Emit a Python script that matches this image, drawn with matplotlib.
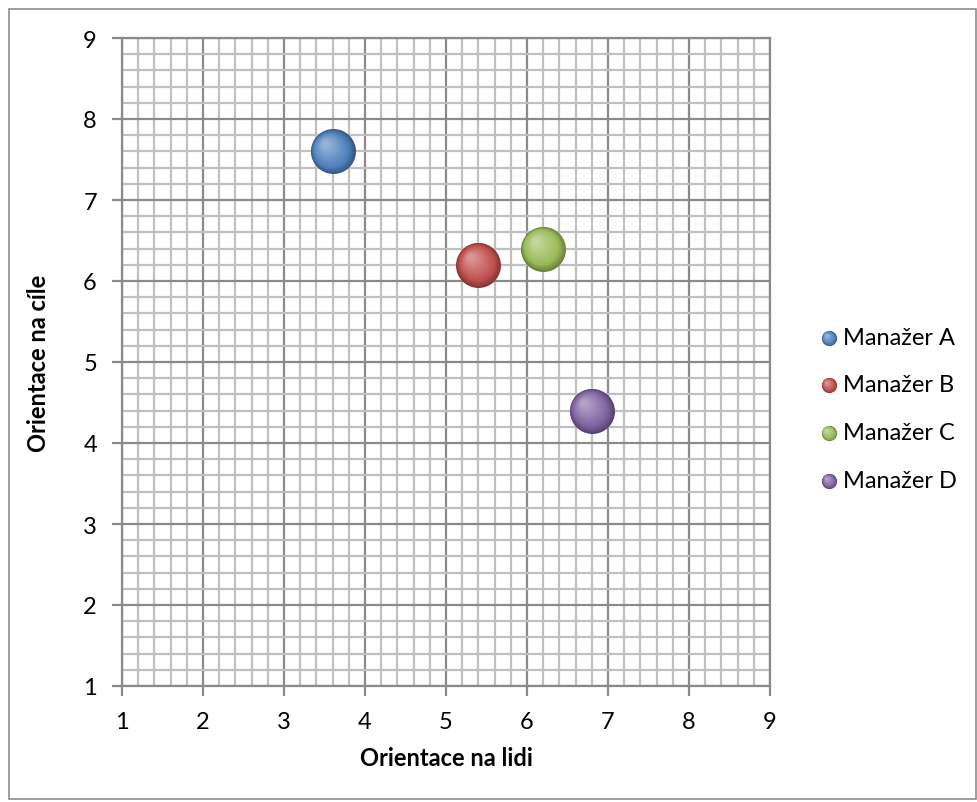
import numpy as np
import matplotlib
matplotlib.use('Agg')
import matplotlib.pyplot as plt
from matplotlib.patches import Rectangle
from matplotlib.transforms import ScaledTranslation
from matplotlib.colors import to_rgb

plt.rcParams['font.family'] = ['Lato', 'DejaVu Sans']

names = ['Manažer A', 'Manažer B', 'Manažer C', 'Manažer D']
x_lidi = [3.6, 5.4, 6.2, 6.8]
y_cile = [7.6, 6.2, 6.4, 4.4]
sizes = [10, 10, 10, 10]
colors = ['#4F81BD', '#C0504D', '#9BBB59', '#8064A2']


def mix(c, other, t):
    c = np.array(to_rgb(c))
    o = np.array(to_rgb(other))
    return tuple(c * (1 - t) + o * t)


def sphere(ax, fig, x, y, s, color, zorder=5, nlayers=18, clip=True):
    # fake a shaded sphere with stacked circles shifted toward the upper left
    d = np.sqrt(s)  # diameter in points
    for k in range(nlayers):
        f = k / (nlayers - 1)
        size = s * (1 - 0.85 * f) ** 2
        shift = (d / 2) * 0.35 * f / 72.0
        off = ScaledTranslation(-shift, shift, fig.dpi_scale_trans)
        if f < 0.25:
            c = mix(color, 'black', 0.3 * (1 - f / 0.25))
        else:
            c = mix(color, 'white', 0.4 * (f - 0.25) / 0.75)
        ax.scatter([x], [y], s=size, color=c, linewidths=0,
                   transform=ax.transData + off, zorder=zorder + k * 0.01,
                   clip_on=clip)


fig = plt.figure(figsize=(9.78, 8.03), dpi=100)
fig.patches.append(Rectangle((9 / 978, 3 / 803), 967 / 978, 790 / 803,
                             transform=fig.transFigure, fill=False,
                             edgecolor='#8c8c8c', linewidth=1.2))

ax = fig.add_axes([122 / 978, 116 / 803, 648 / 978, 648 / 803])
ax.set_xlim(1, 9)
ax.set_ylim(1, 9)
ax.set_xticks(range(1, 10))
ax.set_yticks(range(1, 10))
ax.set_xticks(np.arange(1, 9.01, 0.2), minor=True)
ax.set_yticks(np.arange(1, 9.01, 0.2), minor=True)
ax.grid(which='minor', color='#c0c0c0', linewidth=1.6, zorder=0)
ax.grid(which='major', color='#8a8a8a', linewidth=1.6, zorder=1)
ax.set_axisbelow(True)
ax.tick_params(which='minor', length=0)
ax.tick_params(which='major', direction='out', length=7, width=1.6,
               color='#8a8a8a', labelsize=17, pad=11)
for sp in ax.spines.values():
    sp.set_color('#8a8a8a')
    sp.set_linewidth(1.6)

# bubble size -> area in points^2
scale = 1050 / 10
for xi, yi, si, ci in zip(x_lidi, y_cile, sizes, colors):
    sphere(ax, fig, xi, yi, si * scale, ci)

ax.set_xlabel('Orientace na lidi', fontsize=17, fontweight='bold', labelpad=10)
ax.set_ylabel('Orientace na cíle', fontsize=17, fontweight='bold', labelpad=24)

# legend drawn manually with small spheres
leg_x = 829
leg_y = [339, 386, 434, 482]
for name, ci, ly in zip(names, colors, leg_y):
    fx = leg_x / 978
    fy = 1 - ly / 803
    lax = fig.add_axes([fx - 0.01, fy - 0.01, 0.02, 0.02])
    lax.set_xlim(-1, 1)
    lax.set_ylim(-1, 1)
    lax.axis('off')
    sphere(lax, fig, 0, 0, 120, ci, clip=False)
    fig.text((leg_x + 14) / 978, fy, name, fontsize=17, va='center', ha='left')

fig.savefig('out.png', dpi=100)
